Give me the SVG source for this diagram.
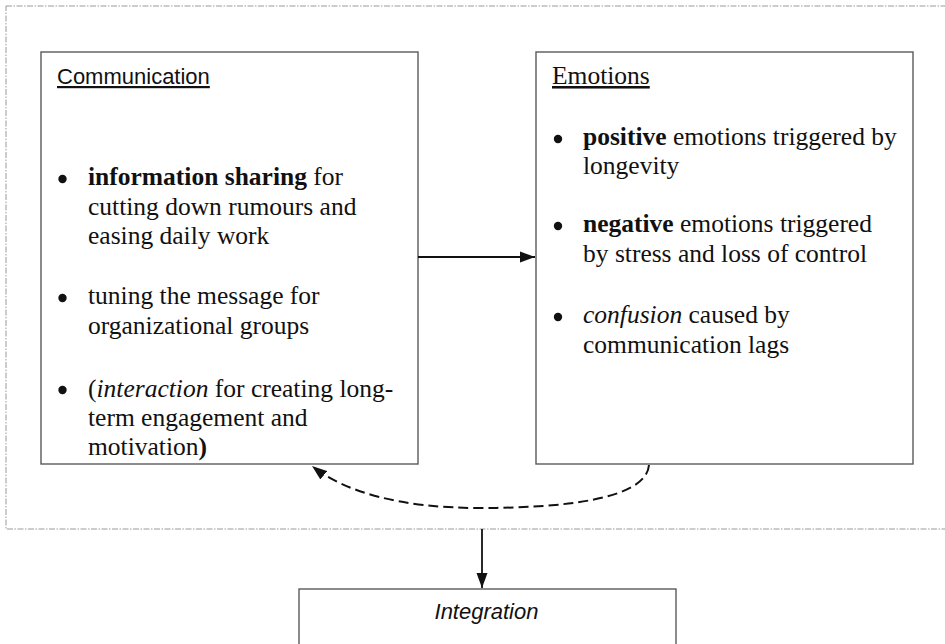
<svg xmlns="http://www.w3.org/2000/svg" width="945" height="644" viewBox="0 0 945 644">
<defs>
<style>
.box{fill:#fff;stroke:#5a5a5a;stroke-width:1.4}
.outer{fill:none;stroke:#9a9a9a;stroke-width:1;stroke-dasharray:6 1.5 1.5 1.5}
.t{font-family:"Liberation Serif","Times New Roman",serif;font-size:25.5px;fill:#111}
.s{font-family:"Liberation Sans",Arial,sans-serif;fill:#111}
.b{font-weight:bold}
.i{font-style:italic}
.dot{fill:#111}
.conn{fill:none;stroke:#111;stroke-width:1.8}
.dash{stroke-dasharray:10 5;stroke-width:2}
</style>
<marker id="ah" markerWidth="16" markerHeight="12" refX="15" refY="6" orient="auto" markerUnits="userSpaceOnUse">
<path d="M0,0.5 L15,6 L0,11.5 Z" fill="#111"/>
</marker>
</defs>
<rect width="945" height="644" fill="#fff"/>
<rect class="outer" x="6" y="6" width="960" height="523"/>

<g id="communication">
<rect class="box" x="41" y="52" width="377" height="412"/>
<text class="s" x="57" y="84" font-size="22" text-decoration="underline">Communication</text>
<circle class="dot" cx="62.5" cy="179" r="4.2"/>
<text class="t" x="88" y="185"><tspan class="b">information sharing</tspan> for</text>
<text class="t" x="88" y="215">cutting down rumours and</text>
<text class="t" x="88" y="244">easing daily work</text>
<circle class="dot" cx="62.5" cy="298" r="4.2"/>
<text class="t" x="88" y="304">tuning the message for</text>
<text class="t" x="88" y="334">organizational groups</text>
<circle class="dot" cx="62.5" cy="390" r="4.2"/>
<text class="t" x="88" y="397">(<tspan class="i">interaction</tspan> for creating long-</text>
<text class="t" x="88" y="426">term engagement and</text>
<text class="t" x="88" y="455">motivation<tspan class="b">)</tspan></text>
</g>

<g id="emotions">
<rect class="box" x="536" y="52" width="377" height="412"/>
<text class="t" x="552" y="84" text-decoration="underline">Emotions</text>
<circle class="dot" cx="558" cy="139" r="4.2"/>
<text class="t" x="583" y="145"><tspan class="b">positive</tspan> emotions triggered by</text>
<text class="t" x="583" y="174">longevity</text>
<circle class="dot" cx="558" cy="226" r="4.2"/>
<text class="t" x="583" y="232"><tspan class="b">negative</tspan> emotions triggered</text>
<text class="t" x="583" y="262">by stress and loss of control</text>
<circle class="dot" cx="558" cy="317" r="4.2"/>
<text class="t" x="583" y="323"><tspan class="i">confusion</tspan> caused by</text>
<text class="t" x="583" y="353">communication lags</text>
</g>

<g id="integration">
<rect class="box" x="299" y="589" width="377" height="80"/>
<text class="s i" x="486.5" y="619" font-size="22" text-anchor="middle">Integration</text>
</g>

<g id="connectors">
<line class="conn" x1="418" y1="257" x2="535" y2="257" marker-end="url(#ah)"/>
<path class="conn dash" d="M649,465 C646,500 560,508 480,508 C400,508 345,492 312,466" marker-end="url(#ah)"/>
<line class="conn" x1="482" y1="529" x2="482" y2="588" marker-end="url(#ah)"/>
</g>
</svg>
